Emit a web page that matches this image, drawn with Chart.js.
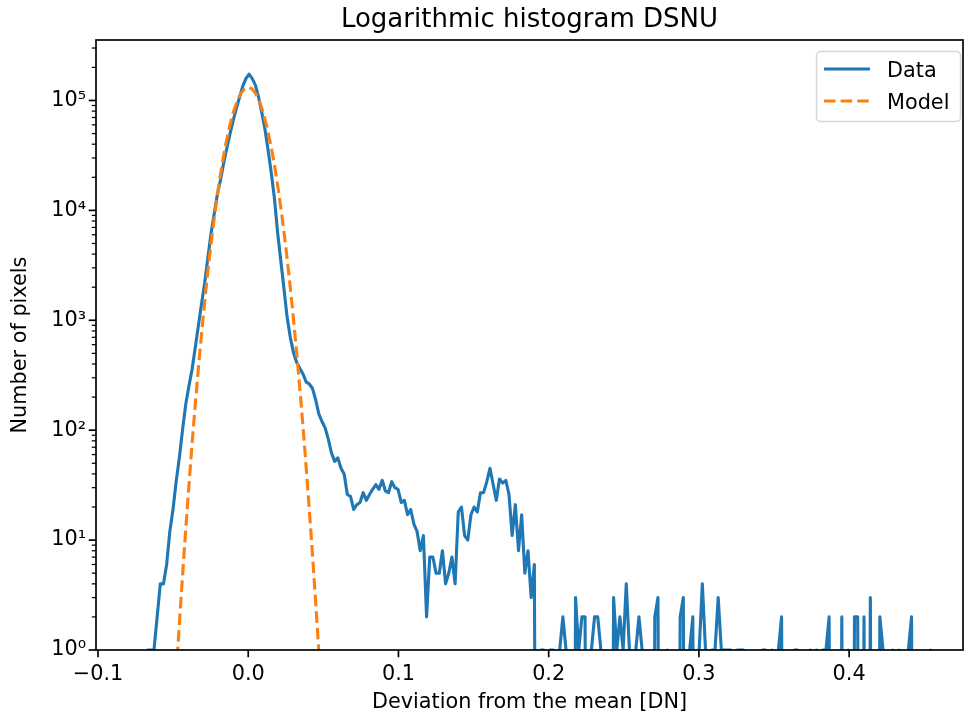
<!DOCTYPE html>
<html>
<head>
<meta charset="utf-8">
<script src="https://cdn.jsdelivr.net/npm/chart.js@4.4.1/dist/chart.umd.min.js"></script>
<style>
  body { margin: 0; background: #fff; }
</style>
</head>
<body>
<canvas id="myChart" width="964" height="718"></canvas>
<script>
// histogram bins: centres start at binStart, spaced binWidth
const binStart = -0.0754;
const binWidth = 0.00211;
const counts = [
    1, 0, 0, 0, 1, 1, 1, 2, 4, 4,
    6, 12, 19, 34, 56, 100, 170, 250, 355, 560,
    890, 1410, 2190, 3700, 6150, 9300, 14000, 19000, 27000, 37000,
    50000, 66000, 85000, 107000, 135000, 158000, 174000, 158000, 138000, 107000,
    78000, 55000, 35500, 22000, 12900, 6300, 3500, 1950, 1070, 700,
    510, 415, 367, 325, 275, 263, 240, 190, 141, 120,
    105, 83, 62, 52, 56, 45, 40, 26, 25, 19,
    21, 22, 27, 23, 26, 29, 32, 29, 35, 28,
    27, 34, 30, 29, 22, 23, 17, 19, 14, 12,
    8, 11, 2, 7, 7, 5, 5, 8, 4, 5,
    7, 4, 18, 20, 11, 10, 17, 20, 18, 27,
    27, 34, 45, 32, 23, 36, 33, 35, 26, 11,
    21, 8, 17, 5, 8, 3, 6, 0, 1, 1,
    0, 1, 1, 0, 1, 2, 1, 0, 0, 3,
    1, 2, 2, 0, 1, 2, 2, 1, 0, 0,
    0, 3, 1, 2, 1, 4, 1, 0, 1, 2,
    1, 0, 0, 0, 2, 3, 0, 0, 1, 0,
    0, 0, 2, 3, 0, 1, 2, 0, 1, 4,
    1, 0, 1, 1, 3, 1, 1, 1, 1, 0,
    1, 1, 1, 0, 0, 0, 0, 0, 1, 1,
    0, 1, 0, 1, 2, 0, 0, 0, 1, 1,
    0, 0, 0, 1, 0, 1, 0, 1, 1, 2,
    0, 0, 0, 2, 0, 1, 0, 2, 2, 0,
    2, 0, 3, 0, 0, 2, 1, 0, 0, 1,
    0, 1, 0, 0, 1, 2, 0, 0, 0, 0,
    0, 1, 0
];

// gaussian model
const modelX = [
    -0.05, -0.0475, -0.045, -0.0425, -0.04, -0.0375, -0.035, -0.0325, -0.03, -0.0275,
    -0.025, -0.0225, -0.02, -0.0175, -0.015, -0.0125, -0.01, -0.0075, -0.005, -0.0025,
    0,
    0.0025, 0.005, 0.0075, 0.01, 0.0125, 0.015, 0.0175, 0.02, 0.0225, 0.025,
    0.0275, 0.03, 0.0325, 0.035, 0.0375, 0.04, 0.0425, 0.045, 0.0475, 0.05
];
const modelY = [
    0.21, 0.76, 2.6, 8.4, 25, 72, 189, 465, 1070, 2310,
    4670, 8800, 15500, 25700, 39600, 57200, 77300, 97700, 115500, 127600,
    132000,
    127600, 115500, 97700, 77300, 57200, 39600, 25700, 15500, 8800, 4670,
    2310, 1070, 465, 189, 72, 25, 8.4, 2.6, 0.76, 0.21
];

const xTicks = [-0.1, 0.0, 0.1, 0.2, 0.3, 0.4];
const xTickLabels = ["\u22120.1", "0.0", "0.1", "0.2", "0.3", "0.4"];
const yDecades = [1, 10, 100, 1000, 10000, 100000];
const yTickLabels = ["10\u2070", "10\u00b9", "10\u00b2", "10\u00b3", "10\u2074", "10\u2075"];
const chartTitle = "Logarithmic histogram DSNU";

const xMin = -0.10133, xMax = 0.4758;
const yMin = 1, yMax = 355000;

// empty bins fall off the bottom of the log axis, like matplotlib's clipping
const dataPoints = counts.map((c, i) => ({ x: binStart + i * binWidth, y: c > 0 ? c : 1e-6 }));
const modelPoints = modelX.map((x, i) => ({ x: x, y: modelY[i] }));

Chart.defaults.font.family = "'DejaVu Sans', sans-serif";
Chart.defaults.font.size = 20.8;
Chart.defaults.color = "#000";

// box around the axes, matplotlib-style tick marks, title centred on the axes
const framePlugin = {
    id: "frame",
    afterDatasetsDraw(chart) {
        const { ctx, chartArea: a, scales } = chart;
        ctx.save();
        ctx.strokeStyle = "#000";
        ctx.lineWidth = 1.67;
        ctx.beginPath();
        for (let t of scales.x.ticks) {
            const px = scales.x.getPixelForValue(t.value);
            ctx.moveTo(px, a.bottom);
            ctx.lineTo(px, a.bottom + 7.3);
        }
        ctx.stroke();
        for (let t of scales.y.ticks) {
            const py = scales.y.getPixelForValue(t.value);
            ctx.lineWidth = t.minor ? 1.25 : 1.67;
            ctx.beginPath();
            ctx.moveTo(a.left, py);
            ctx.lineTo(a.left - (t.minor ? 4.2 : 7.3), py);
            ctx.stroke();
        }
        ctx.lineWidth = 1.67;
        ctx.strokeRect(a.left, a.top, a.right - a.left, a.bottom - a.top);

        ctx.fillStyle = "#000";
        ctx.font = "26px 'DejaVu Sans'";
        ctx.textAlign = "center";
        ctx.textBaseline = "alphabetic";
        ctx.fillText(chartTitle, (a.left + a.right) / 2, 27);
        ctx.restore();
    }
};

// legend box in the upper right corner
const legendPlugin = {
    id: "boxLegend",
    afterDraw(chart) {
        const ctx = chart.ctx;
        const x0 = 816.5, y0 = 51.5, w = 144, h = 70, r = 4;
        ctx.save();
        ctx.beginPath();
        ctx.roundRect(x0, y0, w, h, r);
        ctx.fillStyle = "rgba(255,255,255,0.8)";
        ctx.fill();
        ctx.strokeStyle = "#d6d6d6";
        ctx.lineWidth = 1.5;
        ctx.stroke();
        const rows = [69, 101];
        chart.data.datasets.slice().reverse().forEach((ds, i) => {
            const y = rows[i];
            ctx.strokeStyle = ds.borderColor;
            ctx.lineWidth = ds.borderWidth;
            ctx.setLineDash(ds.borderDash || []);
            ctx.beginPath();
            ctx.moveTo(824, y);
            ctx.lineTo(870, y);
            ctx.stroke();
            ctx.setLineDash([]);
            ctx.fillStyle = "#000";
            ctx.font = "20.8px 'DejaVu Sans'";
            ctx.textBaseline = "alphabetic";
            ctx.fillText(ds.label, 887, y + 7.6);
        });
        ctx.restore();
    }
};

new Chart("myChart", {
    type: "line",
    data: {
        datasets: [
            {
                label: "Model",
                data: modelPoints,
                borderColor: "#ff7f0e",
                borderWidth: 3.1,
                borderDash: [11.6, 5],
                borderJoinStyle: "round",
                pointRadius: 0,
                tension: 0,
                clip: 0,
                order: 0,
            },
            {
                label: "Data",
                data: dataPoints,
                borderColor: "#1f77b4",
                borderWidth: 3.1,
                borderJoinStyle: "round",
                pointRadius: 0,
                tension: 0,
                clip: 0,
                order: 1,
            },
        ],
    },
    options: {
        responsive: false,
        animation: false,
        devicePixelRatio: 1,
        layout: { padding: { left: 0, right: 1, top: 40, bottom: 0 } },
        plugins: {
            legend: { display: false },
            tooltip: { enabled: false },
            title: { display: false },
        },
        scales: {
            x: {
                type: "linear",
                min: xMin,
                max: xMax,
                afterBuildTicks: (s) => { s.ticks = xTicks.map(v => ({ value: v })); },
                afterFit: (s) => { s.height = 68; },
                ticks: {
                    autoSkip: false,
                    maxRotation: 0,
                    padding: 5.5,
                    callback: (v) => {
                        const k = xTicks.findIndex(t => Math.abs(t - v) < 1e-9);
                        return k >= 0 ? xTickLabels[k] : "";
                    },
                },
                grid: { drawOnChartArea: false, color: "rgba(0,0,0,0)", tickLength: 7 },
                border: { display: false },
                title: {
                    display: true,
                    text: "Deviation from the mean [DN]",
                    padding: { top: 0, bottom: 2.5 },
                },
            },
            y: {
                type: "logarithmic",
                min: yMin,
                max: yMax,
                afterBuildTicks: (s) => {
                    const list = [];
                    for (let d of yDecades) {
                        for (let m = 1; m <= 9; m++) {
                            if (d * m <= yMax) list.push({ value: d * m, minor: m !== 1 });
                        }
                    }
                    s.ticks = list;
                },
                afterFit: (s) => { s.width = 96; },
                ticks: {
                    autoSkip: false,
                    padding: 3,
                    callback: (v) => {
                        const k = yDecades.indexOf(v);
                        return k >= 0 ? yTickLabels[k] : "";
                    },
                },
                grid: { drawOnChartArea: false, color: "rgba(0,0,0,0)", tickLength: 7 },
                border: { display: false },
                title: {
                    display: true,
                    text: "Number of pixels",
                    padding: { top: 8, bottom: 0 },
                },
            },
        },
    },
    plugins: [framePlugin, legendPlugin],
});
</script>
</body>
</html>
